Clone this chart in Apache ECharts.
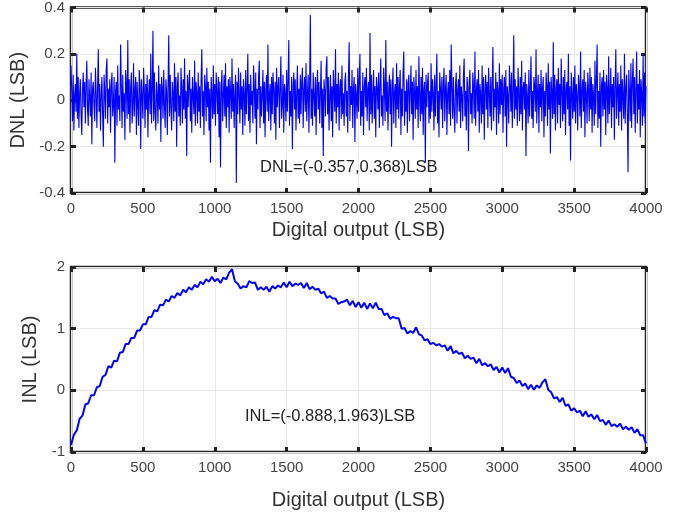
<!DOCTYPE html>
<html><head><meta charset="utf-8">
<script src="https://cdn.jsdelivr.net/npm/echarts@6/dist/echarts.min.js"></script>
<style>html,body{margin:0;padding:0;background:#fff}#c{width:678px;height:513px}</style>
</head><body><div id="c"></div>
<script>
const xTicks = [0,500,1000,1500,2000,2500,3000,3500,4000];
const dnlStep = 5;
const dnlValues = [
0.15,0.04,-0.09,0.11,-0.13,0.02,0.07,-0.05,0.2,-0.08,0.1,-0.12,0.03,0.09,-0.06,-0.15,0.05,0.12,-0.03,0.08,
-0.1,0.06,0.17,-0.04,-0.11,0.09,0.01,-0.07,0.12,-0.19,0.05,0.08,-0.02,-0.09,0.14,0.03,-0.12,0.06,0.22,-0.05,
0.07,-0.13,0.02,0.1,-0.06,-0.2,0.11,0.04,-0.08,0.13,0.18,-0.1,0.05,-0.03,0.09,-0.14,0.06,0.12,-0.07,-0.02,
0.1,-0.27,0.04,0.08,-0.11,0.15,-0.04,0.02,-0.09,0.24,0.06,-0.12,0.11,-0.05,0.03,-0.17,0.13,0.07,-0.08,0.26,
-0.06,0.09,-0.14,0.05,0.12,-0.1,-0.03,0.16,-0.07,0.04,0.1,-0.15,0.08,-0.02,-0.11,0.13,0.06,-0.21,0.09,0.02,
-0.08,0.14,0.05,-0.12,0.07,-0.04,0.11,-0.16,0.03,0.09,-0.06,0.2,-0.1,0.04,0.3,-0.09,0.12,-0.05,-0.13,0.08,
0.02,-0.1,0.15,-0.04,0.07,-0.18,0.1,0.05,-0.08,0.13,-0.02,-0.12,0.09,0.04,-0.15,0.06,0.28,-0.07,0.11,-0.03,
-0.13,0.08,0.03,-0.09,0.16,-0.05,0.1,-0.2,0.06,0.12,-0.07,0.02,-0.11,0.14,0.05,-0.1,0.09,-0.04,0.18,-0.08,
0.04,-0.24,0.11,-0.03,0.07,0.13,-0.09,0.05,-0.14,0.1,0.02,-0.06,0.17,-0.11,0.08,0.03,-0.1,0.12,-0.05,0.06,
-0.12,0.09,0.22,-0.07,0.04,-0.15,0.11,0.06,-0.09,0.14,-0.03,0.08,-0.13,0.05,-0.27,0.1,0.03,-0.08,0.15,-0.06,
0.07,-0.11,0.12,0.04,-0.06,0.1,-0.16,0.08,-0.29,0.05,0.13,-0.09,0.02,0.11,-0.07,0.16,-0.12,0.06,-0.03,0.09,
-0.14,0.1,0.04,-0.08,0.18,-0.05,0.07,-0.12,0.03,0.11,-0.357,0.08,-0.06,0.14,0.02,-0.1,0.12,-0.04,0.06,-0.15,
0.09,0.03,-0.11,0.13,-0.06,0.05,0.2,-0.09,0.07,-0.14,0.11,-0.02,0.04,-0.1,0.15,0.06,-0.08,0.12,-0.19,0.05,
-0.04,0.1,0.17,-0.12,0.06,-0.07,0.03,0.13,-0.1,0.08,-0.16,0.04,0.11,-0.05,0.24,-0.09,0.02,0.07,-0.13,0.1,
-0.06,0.12,0.05,-0.1,0.08,-0.17,0.14,-0.03,0.06,0.1,-0.12,0.04,0.19,-0.08,-0.02,0.11,-0.14,0.07,0.03,-0.09,
0.13,-0.05,0.08,0.26,-0.11,0.04,-0.07,0.1,-0.21,0.06,0.12,-0.04,0.09,-0.13,0.03,0.15,-0.08,0.05,-0.1,0.11,
-0.06,0.08,0.14,-0.12,0.04,0.1,-0.05,0.16,-0.09,0.03,0.11,-0.14,0.07,0.368,-0.08,0.05,-0.11,0.12,0.02,-0.07,
0.1,-0.15,0.06,0.13,-0.04,0.08,-0.1,0.03,0.17,-0.12,0.05,-0.24,0.09,0.04,-0.07,0.14,0.19,-0.06,0.1,-0.13,
0.02,0.11,-0.09,0.06,-0.16,0.13,0.04,-0.05,0.22,-0.1,0.07,-0.03,0.12,-0.13,0.05,0.09,-0.08,0.15,-0.06,0.03,
-0.11,0.08,0.12,-0.07,0.04,-0.14,0.1,0.25,-0.09,0.06,-0.02,0.13,-0.12,0.05,0.1,-0.18,0.07,0.02,-0.08,0.14,
-0.05,0.09,0.2,-0.11,0.04,-0.07,0.12,-0.15,0.06,0.1,-0.03,0.14,-0.09,0.05,0.08,-0.13,0.29,-0.06,0.11,-0.1,
0.03,0.13,-0.08,0.06,-0.16,0.1,0.05,-0.04,0.12,-0.12,0.07,0.18,-0.07,0.02,-0.11,0.14,0.06,-0.09,0.26,-0.05,
0.08,-0.13,0.04,0.11,-0.06,0.09,-0.2,0.05,0.14,-0.1,0.03,0.07,-0.12,0.16,-0.04,0.1,-0.08,0.06,0.13,-0.15,
0.05,-0.07,0.12,0.21,-0.11,0.04,-0.05,0.09,-0.14,0.07,0.11,-0.09,0.03,0.15,-0.06,0.08,-0.17,0.1,0.04,-0.08,
0.13,-0.04,0.06,-0.12,0.19,0.02,-0.09,0.1,-0.06,0.14,-0.15,0.05,0.08,-0.27,0.11,-0.03,0.07,0.12,-0.1,0.04,
-0.08,0.16,-0.05,0.09,0.03,-0.13,0.11,-0.07,0.06,0.2,-0.1,0.04,-0.16,0.12,0.05,-0.04,0.1,-0.12,0.07,0.14,
-0.09,0.05,0.11,-0.15,0.03,0.08,-0.06,0.13,-0.11,0.24,0.06,-0.08,0.1,-0.04,-0.14,0.07,0.12,-0.1,0.04,0.09,
-0.05,0.15,-0.12,0.06,0.02,-0.09,0.11,0.18,-0.07,0.04,-0.13,0.1,0.05,-0.22,0.08,0.13,-0.06,0.03,-0.1,0.12,
0.06,-0.08,0.21,-0.11,0.04,0.09,-0.05,0.13,-0.14,0.07,0.02,-0.1,0.15,-0.06,0.1,-0.17,0.05,0.11,-0.04,0.08,
-0.12,0.14,0.03,-0.07,0.1,-0.13,0.06,0.23,-0.09,0.05,-0.03,0.12,-0.15,0.08,0.04,-0.1,0.16,-0.06,0.09,-0.02,
0.11,-0.14,0.05,0.1,-0.07,0.13,-0.2,0.06,0.02,-0.1,0.15,0.07,-0.05,0.12,-0.12,0.04,0.28,-0.08,0.09,-0.04,
0.06,-0.11,0.14,0.03,-0.09,0.1,-0.06,0.17,-0.13,0.05,0.08,-0.04,0.12,-0.24,0.07,0.02,-0.1,0.13,-0.07,0.05,
0.19,-0.08,0.04,-0.12,0.1,0.06,-0.05,0.22,-0.1,0.03,0.11,-0.14,0.07,-0.03,0.13,-0.09,0.05,0.1,-0.16,0.04,
-0.07,0.12,0.06,-0.11,0.16,-0.04,0.08,-0.23,0.1,0.03,-0.08,0.25,-0.06,0.11,-0.13,0.05,0.09,-0.1,0.14,-0.02,
0.07,-0.12,0.18,0.04,-0.09,0.1,-0.06,0.13,-0.15,0.05,0.08,-0.04,0.2,-0.11,0.06,-0.26,0.12,0.03,-0.08,0.1,
-0.05,0.15,-0.1,0.07,0.02,-0.13,0.11,0.06,-0.07,0.21,-0.12,0.04,0.09,-0.05,0.13,-0.16,0.08,0.03,-0.1,0.12,
0.05,-0.09,0.14,-0.04,0.1,-0.14,0.07,0.02,-0.11,0.17,-0.06,0.09,0.24,-0.12,0.04,-0.08,0.12,-0.2,0.06,0.1,
-0.07,0.13,-0.04,0.08,-0.15,0.11,0.05,-0.1,0.19,-0.06,0.03,0.14,-0.12,0.07,-0.03,0.1,-0.17,0.06,0.22,-0.08,
0.04,0.12,-0.11,0.07,-0.05,0.15,-0.13,0.09,0.02,-0.08,0.2,-0.1,0.05,0.11,-0.06,-0.31,0.13,0.04,-0.09,0.16,
-0.12,0.08,0.18,-0.06,0.1,-0.14,0.05,0.21,-0.1,0.07,-0.04,0.13,-0.16,0.09,0.03,-0.11,0.2,-0.07,0.12,-0.1,
0.06
];
const inlStep = 20;
const inlValues = [
-0.888,-0.72,-0.65,-0.46,-0.41,-0.23,-0.21,-0.08,-0.08,0.05,0.07,0.22,0.25,0.39,0.37,0.48,0.47,0.61,0.62,0.75,
0.75,0.85,0.85,0.97,0.97,1.07,1.07,1.19,1.19,1.30,1.28,1.39,1.38,1.47,1.44,1.53,1.50,1.58,1.54,1.63,
1.59,1.67,1.63,1.71,1.67,1.76,1.72,1.80,1.76,1.84,1.77,1.81,1.74,1.83,1.80,1.91,1.963,1.77,1.73,1.65,
1.69,1.67,1.77,1.74,1.75,1.63,1.67,1.63,1.68,1.60,1.69,1.65,1.70,1.67,1.75,1.67,1.76,1.69,1.73,1.71,
1.74,1.66,1.74,1.64,1.68,1.63,1.65,1.57,1.60,1.50,1.53,1.49,1.49,1.40,1.43,1.44,1.47,1.38,1.45,1.35,
1.43,1.34,1.42,1.32,1.41,1.33,1.42,1.32,1.32,1.22,1.25,1.16,1.19,1.17,1.17,1.00,1.01,0.92,0.96,0.93,
1.02,0.91,0.89,0.81,0.83,0.75,0.77,0.73,0.75,0.71,0.73,0.64,0.72,0.60,0.64,0.59,0.61,0.52,0.56,0.51,
0.53,0.44,0.51,0.41,0.44,0.39,0.42,0.33,0.38,0.29,0.37,0.28,0.36,0.22,0.20,0.12,0.16,0.07,0.11,0.02,
0.09,0.01,0.08,0.04,0.13,0.18,0.01,-0.03,-0.13,-0.11,-0.19,-0.12,-0.25,-0.23,-0.33,-0.29,-0.36,-0.33,-0.42,-0.34,
-0.43,-0.39,-0.47,-0.40,-0.50,-0.48,-0.56,-0.49,-0.58,-0.55,-0.59,-0.54,-0.63,-0.59,-0.64,-0.60,-0.69,-0.63,-0.73,-0.73,
-0.86
];
const dnlTicks = [-0.4,-0.2,0,0.2,0.4];
const inlTicks = [-1,0,1,2];
const dnlNote = 'DNL=(-0.357,0.368)LSB';
const inlNote = 'INL=(-0.888,1.963)LSB';

const FONT = "'Liberation Sans', Arial, sans-serif";
const chart = echarts.init(document.getElementById('c'), null, {renderer:'canvas'});
const gridLine = {show:true, lineStyle:{color:'#e8e8e8', width:1}};
const tick = {show:true, inside:true, length:5, lineStyle:{color:'#222', width:3}};
function xAx(gi, pos, labels, gap){
  return {type:'value', gridIndex:gi, position:pos, min:xTicks[0], max:xTicks[xTicks.length-1], interval:xTicks[1]-xTicks[0],
    axisLine:{show:false, onZero:false}, axisTick:tick,
    axisLabel:{show:labels, color:'#444', fontSize:15, fontFamily:FONT, margin:8, formatter:v=>String(v)},
    splitLine: labels ? gridLine : {show:false},
    name: labels ? 'Digital output (LSB)' : '', nameLocation:'middle', nameGap:gap,
    nameTextStyle:{color:'#333', fontSize:20, fontFamily:FONT}};
}
function yAx(gi, pos, ticks, labels, name){
  return {type:'value', gridIndex:gi, position:pos, min:ticks[0], max:ticks[ticks.length-1], interval:ticks[1]-ticks[0],
    axisLine:{show:false, onZero:false}, axisTick:tick,
    axisLabel:{show:labels, color:'#444', fontSize:15, fontFamily:FONT, margin:6},
    splitLine: labels ? gridLine : {show:false},
    name: labels ? name : '', nameLocation:'middle', nameGap:31, nameRotate:90,
    nameTextStyle:{color:'#333', fontSize:20, fontFamily:FONT}};
}
chart.setOption({
  animation:false,
  backgroundColor:'#fff',
  grid:[
    {left:71, top:7, width:575, height:186, show:true, borderColor:'#222', borderWidth:2.5, backgroundColor:'transparent'},
    {left:71, top:267, width:575, height:185, show:true, borderColor:'#222', borderWidth:2.5, backgroundColor:'transparent'}
  ],
  xAxis:[xAx(0,'bottom',true,27), xAx(0,'top',false,0), xAx(1,'bottom',true,38), xAx(1,'top',false,0)],
  yAxis:[yAx(0,'left',dnlTicks,true,'DNL (LSB)'), yAx(0,'right',dnlTicks,false,''),
         yAx(1,'left',inlTicks,true,'INL (LSB)'), yAx(1,'right',inlTicks,false,'')],
  series:[
    {type:'line', xAxisIndex:0, yAxisIndex:0, symbol:'none', sampling:'none', data:dnlValues.map((v,i)=>[i*dnlStep,v]),
      lineStyle:{color:'#0000ff', width:1.1}, z:1},
    {type:'line', xAxisIndex:2, yAxisIndex:2, symbol:'none', data:inlValues.map((v,i)=>[i*inlStep,v]),
      lineStyle:{color:'#0000ff', width:2}, z:1}
  ],
  graphic:[
    {type:'text', left:260, top:159, z:100, style:{text:dnlNote, fill:'#222', font:'16.5px '+FONT}},
    {type:'text', left:245, top:408, z:100, style:{text:inlNote, fill:'#222', font:'16.5px '+FONT}}
  ]
});
</script></body></html>
